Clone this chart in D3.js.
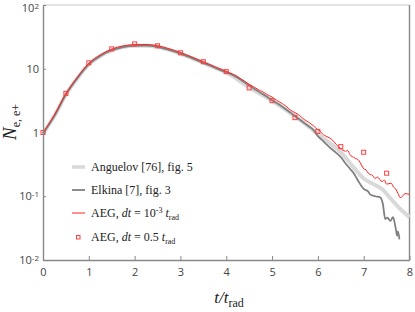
<!DOCTYPE html>
<meta charset="utf-8">
<style>
  body { margin: 0; background: #fff; }
  .tick text { font-family: "Open Sans", sans-serif; font-size: 11px; fill: #444; }
  .lbl { font-family: "Liberation Serif", serif; fill: #222; }
</style>
<body>
<script src="https://d3js.org/d3.v7.min.js"></script>
<script>

const width = 415;
const height = 312;
const margin = {left: 43, right: 5, top: 5, bottom: 52};

// common smooth rise, t = 0 .. 4
const riseT = [0, 0.25, 0.5, 0.75, 1, 1.25, 1.5, 1.75, 2, 2.25, 2.5, 2.75, 3, 3.25, 3.5, 3.75, 4];
const riseN = [1, 1.9, 4.1, 7.4, 12.2, 16.5, 20.3, 22.8, 23.9, 24, 23, 20.6, 18, 15.3, 12.9, 10.8, 9.1];

// Anguelov [76] tail
const anguelovT = [4.5, 5, 5.5, 6, 6.25, 6.5, 6.75, 7, 7.25, 7.4, 7.6, 7.8, 8];
const anguelovN = [5.1, 3.15, 1.8, 0.95, 0.69, 0.49, 0.3, 0.19, 0.15, 0.13, 0.09, 0.063, 0.047];

// Elkina [7] tail
const elkinaT = [4.2, 4.4, 4.6, 4.8, 5, 5.2, 5.4, 5.6, 5.8, 5.9, 6, 6.1, 6.2, 6.3, 6.4, 6.5, 6.6, 6.7, 6.8, 6.85, 6.9, 7, 7.1, 7.14, 7.25, 7.36, 7.42, 7.47, 7.52, 7.58, 7.64, 7.7, 7.73, 7.75, 7.78];
const elkinaN = [7.6, 6.1, 4.9, 4.0, 3.2, 2.6, 2.05, 1.6, 1.25, 1.1, 0.88, 0.75, 0.64, 0.55, 0.48, 0.41, 0.33, 0.27, 0.22, 0.19, 0.165, 0.13, 0.118, 0.107, 0.1, 0.096, 0.075, 0.044, 0.046, 0.041, 0.047, 0.031, 0.024, 0.028, 0.021];

// AEG dt = 1e-3 tail (noisy)
const aegT = [4.1, 4.2, 4.3, 4.4, 4.5, 4.6, 4.7, 4.8, 4.9, 5, 5.1, 5.2, 5.3, 5.4, 5.5, 5.6, 5.7, 5.8, 5.9, 6, 6.05, 6.1, 6.2, 6.3, 6.35, 6.4, 6.5, 6.6, 6.65, 6.7, 6.8, 6.9, 6.95, 7, 7.05, 7.1, 7.2, 7.25, 7.3, 7.4, 7.45, 7.5, 7.6, 7.65, 7.7, 7.75, 7.8, 7.85, 7.9, 8];
const aegN = [8.5, 7.9, 7.1, 6.4, 5.7, 5.2, 4.7, 4.35, 3.9, 3.6, 3.2, 2.9, 2.6, 2.25, 2.05, 1.85, 1.6, 1.45, 1.28, 1.1, 1.05, 0.95, 0.86, 0.78, 0.72, 0.65, 0.56, 0.51, 0.52, 0.45, 0.40, 0.36, 0.31, 0.27, 0.26, 0.23, 0.21, 0.19, 0.2, 0.17, 0.18, 0.155, 0.16, 0.14, 0.13, 0.11, 0.095, 0.1, 0.11, 0.107];

// AEG dt = 0.5 markers
const markT = [0, 0.5, 1, 1.5, 2, 2.5, 3, 3.5, 4, 4.5, 5, 5.5, 6, 6.5, 7, 7.5];
const markN = [1, 4.1, 12.4, 20.5, 24.5, 22.9, 17.8, 12.9, 9.0, 5.0, 3.16, 1.71, 1.04, 0.6, 0.49, 0.23];

const xTicks = [0, 1, 2, 3, 4, 5, 6, 7, 8];
const yTicks = [0.01, 0.1, 1, 10, 100];
const yTickExp = {0.01: "-2", 0.1: "-1", 100: "2"};

const legendItems = ["Anguelov [76], fig. 5", "Elkina [7], fig. 3", "AEG, dt = 10-3 trad", "AEG, dt = 0.5 trad"];

const zip = (ts, ns) => ts.map((t, i) => ({t: t, n: ns[i]}));
const rise = zip(riseT, riseN);
const riseLow = rise.map(d => ({t: d.t, n: d.n * 0.96}));

const x = d3.scaleLinear().domain([0, 8]).range([margin.left, width - margin.right - 0.5]);
const y = d3.scaleLog().domain([0.01, 100]).range([height - margin.bottom, margin.top]);

const svg = d3.select("body").append("svg")
              .attr("width", width)
              .attr("height", height);

const line = d3.line()
               .x(d => x(d.t))
               .y(d => y(d.n))
               .curve(d3.curveMonotoneX);

// frame
svg.append("line").attr("x1", x(0)).attr("x2", x(8)).attr("y1", y(100)).attr("y2", y(100))
   .attr("stroke", "#c8c8c8").attr("stroke-width", 1.2);
svg.append("line").attr("x1", x(8)).attr("x2", x(8)).attr("y1", y(100)).attr("y2", y(0.01))
   .attr("stroke", "#888").attr("stroke-width", 1.4);

const series = [
  {data: riseLow.concat(zip(anguelovT, anguelovN)), color: "#d9d9d9", w: 4},
  {data: riseLow.slice(0, -1).concat([{t: 4, n: 8.8}], zip(elkinaT, elkinaN)), color: "#808080", w: 1.8},
  {data: rise.concat(zip(aegT, aegN)), color: "#ff2020", w: 1}
];

series.forEach(s => {
  svg.append("path")
     .attr("d", line(s.data))
     .attr("fill", "none")
     .attr("stroke", s.color)
     .attr("stroke-width", s.w)
     .attr("stroke-linejoin", "round");
});

svg.append("g")
   .selectAll("rect")
   .data(zip(markT, markN))
   .enter().append("rect")
   .attr("x", d => x(d.t) - 2)
   .attr("y", d => y(d.n) - 2)
   .attr("width", 4)
   .attr("height", 4)
   .attr("fill", "none")
   .attr("stroke", "#ff4040")
   .attr("stroke-width", 1);

// axes
const xAxis = svg.append("g")
   .attr("transform", `translate(0,${y(0.01)})`)
   .call(d3.axisBottom(x).tickValues(xTicks).tickSizeInner(-4).tickSizeOuter(0).tickPadding(8));

const yAxis = svg.append("g")
   .attr("transform", `translate(${x(0)},0)`)
   .call(d3.axisLeft(y).tickValues(yTicks).tickSizeInner(-3).tickSizeOuter(0).tickPadding(4).tickFormat(""));

[xAxis, yAxis].forEach(a => {
  a.select(".domain").attr("stroke", "#888").attr("stroke-width", 1.4);
  a.selectAll(".tick line").attr("stroke", "#888");
});

yAxis.selectAll(".tick text").each(function(d) {
  const t = d3.select(this);
  if (yTickExp[d]) {
    t.append("tspan").text("10");
    t.append("tspan").attr("dy", -3.5).attr("font-size", 8).text(yTickExp[d]);
  } else {
    t.text(d);
  }
});
yAxis.selectAll(".tick").filter(d => d == 100).select("text").attr("y", 3);

// axis labels
const xl = svg.append("text").attr("class", "lbl")
   .attr("x", 229).attr("y", 303).attr("text-anchor", "middle").attr("font-size", 17);
xl.append("tspan").attr("font-style", "italic").text("t/t");
xl.append("tspan").attr("dy", 4).attr("font-size", 12).text("rad");

const yl = svg.append("text").attr("class", "lbl")
   .attr("transform", "translate(16,122) rotate(-90)")
   .attr("text-anchor", "middle").attr("font-size", 19);
yl.append("tspan").attr("font-style", "italic").text("N");
yl.append("tspan").attr("dy", 4).attr("font-size", 12).text("e, e+");

// legend
const lg = svg.append("g").attr("transform", "translate(72,167)");
const rowH = 23;
legendItems.forEach((name, i) => {
  const row = lg.append("g").attr("transform", `translate(0,${i * rowH + (i == 3 ? 1 : 0)})`);
  if (i < 3) {
    const s = series[i];
    row.append("line").attr("x1", 0).attr("x2", 13).attr("y1", 0).attr("y2", 0)
       .attr("stroke", s.color).attr("stroke-width", i == 0 ? 3.5 : (i == 1 ? 1.8 : 1));
  } else {
    row.append("rect").attr("x", 4.5).attr("y", -1.5).attr("width", 3.5).attr("height", 3.5)
       .attr("fill", "none").attr("stroke", "#ff4040");
  }
  const tx = row.append("text").attr("class", "lbl").attr("x", 19).attr("y", 4).attr("font-size", 12);
  if (i < 2) {
    tx.text(name);
  } else {
    tx.append("tspan").text("AEG, ");
    tx.append("tspan").attr("font-style", "italic").text("dt");
    if (i == 2) {
      tx.append("tspan").text(" = 10");
      tx.append("tspan").attr("dy", -4).attr("font-size", 8).text("-3");
      tx.append("tspan").attr("dy", 4).attr("font-style", "italic").text(" t");
    } else {
      tx.append("tspan").text(" = 0.5 ");
      tx.append("tspan").attr("font-style", "italic").text("t");
    }
    tx.append("tspan").attr("dy", 3).attr("font-size", 8).text("rad");
  }
});
</script>
</body>
